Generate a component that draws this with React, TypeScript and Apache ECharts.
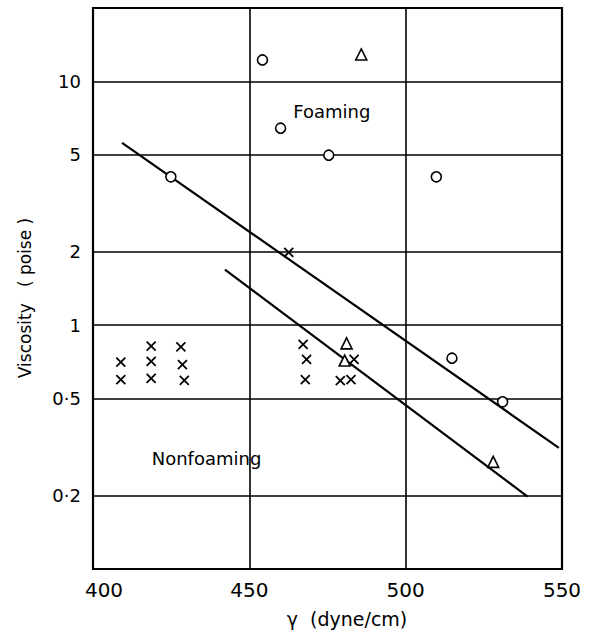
import React, { useEffect, useRef } from "react";
import * as echarts from "echarts";

const yTickValues = [0.2, 0.5, 1, 2, 5, 10];
const yTickLabels = ["0·2", "0·5", "1", "2", "5", "10"];
const xTickValues = [400, 450, 500, 550];

const circles: [number, number][] = [
  [454.2, 12.25],
  [460.0, 6.43],
  [475.4, 4.98],
  [424.9, 4.06],
  [509.8, 4.06],
  [514.8, 0.732],
  [531.0, 0.485],
];

const triangles: [number, number][] = [
  [485.8, 12.9],
  [481.1, 0.842],
  [480.5, 0.716],
  [528.0, 0.275],
];

const crosses: [number, number][] = [
  [462.6, 1.99],
  [408.9, 0.705],
  [408.9, 0.598],
  [418.6, 0.82],
  [418.6, 0.71],
  [418.6, 0.605],
  [428.1, 0.815],
  [428.6, 0.689],
  [429.2, 0.594],
  [467.2, 0.834],
  [468.3, 0.724],
  [467.9, 0.598],
  [479.1, 0.592],
  [482.5, 0.598],
  [483.5, 0.724],
];

const upperLine: [number, number][] = [
  [409.3, 5.6],
  [549.0, 0.314],
];
const lowerLine: [number, number][] = [
  [442.2, 1.69],
  [539.0, 0.198],
];

const regionLabels: [number, number, string][] = [
  [476.4, 7.56, "Foaming"],
  [436.3, 0.285, "Nonfoaming"],
];

const xTitle = "\u03b3  (dyne/cm)";
const yTitle = "Viscosity   ( poise )";

const FONT = "DejaVu Sans";

export default function App() {
  const ref = useRef<HTMLDivElement>(null);
  useEffect(() => {
    document.body.style.margin = "0";
    const chart = echarts.init(ref.current!, undefined, { renderer: "svg" });
    const markerStyle = {
      color: "#fff",
      borderColor: "#000",
      borderWidth: 1.6,
      opacity: 1,
    };
    chart.setOption({
      animation: false,
      backgroundColor: "#fff",
      grid: {
        left: 93,
        right: 27,
        top: 8,
        bottom: 63,
        show: true,
        borderColor: "#000",
        borderWidth: 2.2,
        backgroundColor: "transparent",
      },
      graphic: [
        {
          type: "text",
          x: 347,
          y: 619,
          style: {
            text: xTitle,
            fontSize: 19,
            fontFamily: FONT,
            fill: "#000",
            align: "center",
            verticalAlign: "middle",
          },
        },
        {
          type: "text",
          x: 25,
          y: 298,
          rotation: Math.PI / 2,
          style: {
            text: yTitle,
            fontSize: 17,
            fontFamily: FONT,
            fill: "#000",
            align: "center",
            verticalAlign: "middle",
          },
        },
      ],
      xAxis: {
        type: "value",
        min: 400,
        max: 550,
        interval: 50,
        axisLine: { show: false },
        axisTick: { show: false },
        axisLabel: {
          color: "#000",
          fontSize: 20,
          fontFamily: FONT,
          margin: 11,
          customValues: xTickValues,
          formatter: (v: number) => (v === 400 ? "{a|400}" : String(v)),
          rich: {
            a: {
              color: "#000",
              fontSize: 20,
              fontFamily: FONT,
              padding: [0, 0, 0, 22],
            },
          },
        },
        splitLine: { show: true, lineStyle: { color: "#000", width: 1.6 } },
      },
      yAxis: {
        type: "log",
        logBase: 10,
        min: 0.1,
        max: 20,
        axisLine: { show: false },
        axisTick: { show: false, customValues: yTickValues },
        axisLabel: {
          color: "#000",
          fontSize: 18,
          fontFamily: FONT,
          margin: 12,
          customValues: yTickValues,
          formatter: (v: number) => {
            const i = yTickValues.findIndex((t) => Math.abs(t - v) < 1e-6);
            return i >= 0 ? yTickLabels[i] : "";
          },
        },
        splitLine: { show: true, lineStyle: { color: "#000", width: 1.6 } },
      },
      series: [
        {
          type: "line",
          data: upperLine,
          symbol: "none",
          lineStyle: { color: "#000", width: 2.2 },
          z: 3,
        },
        {
          type: "line",
          data: lowerLine,
          symbol: "none",
          lineStyle: { color: "#000", width: 2.2 },
          z: 3,
        },
        {
          type: "scatter",
          data: circles,
          symbol: "circle",
          symbolSize: 10,
          itemStyle: markerStyle,
          z: 5,
        },
        {
          type: "scatter",
          data: triangles,
          symbol: "triangle",
          symbolSize: 11,
          itemStyle: markerStyle,
          z: 5,
        },
        {
          type: "scatter",
          data: crosses,
          symbol: "path://M0,0L10,10M10,0L0,10",
          symbolSize: 9,
          itemStyle: {
            color: "none",
            borderColor: "#000",
            borderWidth: 1.8,
            opacity: 1,
          },
          z: 5,
        },
        {
          type: "scatter",
          data: regionLabels,
          symbolSize: 0,
          itemStyle: { opacity: 1 },
          label: {
            show: true,
            position: "inside",
            formatter: (p: any) => p.value[2],
            color: "#000",
            textBorderWidth: 0,
            fontSize: 18,
            fontFamily: FONT,
          },
          z: 6,
        },
      ],
    });
    return () => chart.dispose();
  }, []);
  return <div ref={ref} style={{ width: 589, height: 632 }} />;
}
